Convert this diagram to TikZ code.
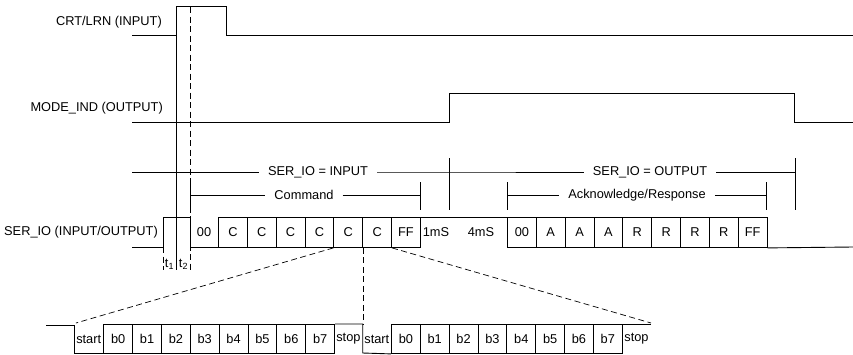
\documentclass[tikz,border=0pt]{standalone}
\usepackage{fontspec}
\setmainfont{Liberation Sans}
\usetikzlibrary{positioning, calc}

\begin{document}
\begin{tikzpicture}[x=1pt, y=-1pt,
    sig/.style={line width=0.9pt},
    thin/.style={line width=0.7pt},
    guide/.style={line width=0.7pt, dash pattern=on 6pt off 3.5pt},
    lbl/.style={font=\fontsize{12.8}{15}\selectfont, inner sep=0pt},
    brk/.style={lbl, inner xsep=9pt},
    bitbox/.style={draw, line width=0.9pt, minimum width=28.85pt, minimum height=30pt,
        inner sep=0pt, anchor=north west, font=\fontsize{12.8}{15}\selectfont},
    bytebox/.style={bitbox, minimum height=29pt}
]
    \useasboundingbox (0,0) rectangle (853,354);

    % CRT/LRN
    \node[lbl, anchor=east] (crt) at (162,22) {CRT/LRN (INPUT)};
    \draw[sig] (132,35) -- (176,35) -- (176,6) -- (226,6) -- (226,35) -- (853,35);

    % MODE_IND
    \node[lbl, anchor=east] (mode) at (163,108) {MODE\_IND (OUTPUT)};
    \draw[sig] (132,122) -- (449,122) -- (449,93) -- (794,93) -- (794,122) -- (853,122);

    % Timing guides
    \draw[thin] (176,6) -- (176,270);
    \draw[guide] (190,7) -- (190,270);
    \draw[guide] (163,247) -- (163,270);
    \node[lbl] (t1) at (169.5,264) {t\textsubscript{1}};
    \node[lbl] (t2) at (183.5,264) {t\textsubscript{2}};

    % Direction brackets
    \node[brk] (serin) at (318,172) {SER\_IO = INPUT};
    \node[brk] (serout) at (650,172) {SER\_IO = OUTPUT};
    \coordinate (mid) at (449,172);
    \draw[thin] (132,172) -- (serin.west);
    \draw[thin] (serin.east) -- (mid) -- (serout.west);
    \draw[thin] (serout.east) -- (795,172);
    \draw[thin] (449,158) -- (449,210);
    \draw[thin] (795,158) -- (795,210);

    \node[brk] (cmd) at (304,195) {Command};
    \node[brk] (ack) at (637,195) {Acknowledge/Response};
    \draw[thin] (190,182) -- (190,210);
    \draw[thin] (190,195) -- (cmd.west);
    \draw[thin] (cmd.east) -- (420,195);
    \draw[thin] (420,182) -- (420,210);
    \draw[thin] (507,182) -- (507,210);
    \draw[thin] (507,195) -- (ack.west);
    \draw[thin] (ack.east) -- (766,195);
    \draw[thin] (766,182) -- (766,210);

    % SER_IO
    \node[lbl, anchor=east] (serio) at (158,232) {SER\_IO (INPUT/OUTPUT)};
    \draw[sig] (132,247) -- (163,247) -- (163,217) -- (190,217) -- (190,247) -- (218,247);
    \node[lbl] (z0) at (204,232) {00};
    \foreach \t [count=\i from 0] in {C,C,C,C,C,C,FF}
        \node[bitbox] (c\i) at (218+28.85*\i,217) {\t};
    \draw[sig] (c6.north east) -- (507,217);
    \node[lbl] (ms1) at (436,232) {1mS};
    \node[lbl] (ms4) at (481,232) {4mS};
    \foreach \t [count=\i from 0] in {00,A,A,A,R,R,R,R,FF}
        \node[bitbox] (r\i) at (507+28.85*\i,217) {\t};
    \draw[sig] (r8.south east) -- (853,247);

    % Expanded bytes
    \draw[sig] (46,325) -- (74,325) -- (74,353) -- (103.3,353);
    \coordinate (byteA) at (76,323);
    \node[lbl] (sta) at (88.7,339) {start};
    \foreach \i in {0,...,7}
        \node[bytebox] (a\i) at (103.3+28.85*\i,324) {b\i};
    \foreach \i in {0,...,7}
        \node[bytebox] (b\i) at (391+28.85*\i,324) {b\i};
    \draw[sig] (a7.north east) -- (362.7,324) -- (362.7,353) -- (b0.south west);
    \node[lbl] (spa) at (348.4,339) {stop};
    \node[lbl] (stb) at (376.8,339) {start};
    \draw[sig] (b7.north east) -- (651,324);
    \coordinate (byteB) at (651,323);
    \node[lbl] (spb) at (636.5,339) {stop};

    % Zoom lines
    \draw[guide] (c4.south west) -- (byteA);
    \draw[guide] (c4.south east) -- (c4.south east |- 0,324);
    \draw[guide] (c5.south east) -- (byteB);

\end{tikzpicture}
\end{document}
